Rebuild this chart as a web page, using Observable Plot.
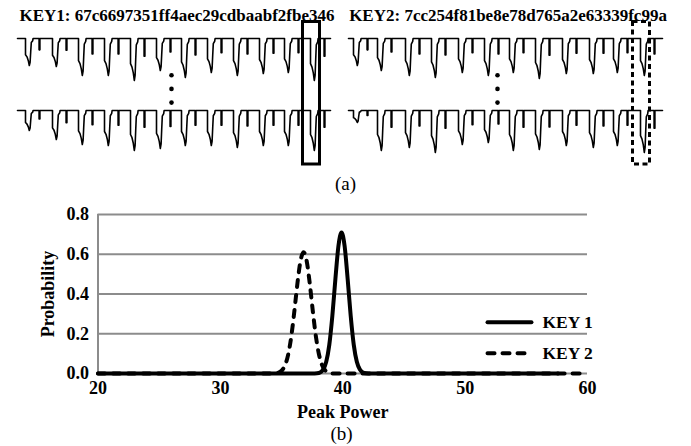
<!DOCTYPE html>
<html><head><meta charset="utf-8">
<script src="https://cdn.jsdelivr.net/npm/d3@7"></script>
<script src="https://cdn.jsdelivr.net/npm/@observablehq/plot@0.6"></script>
<style>
body{margin:0;background:#fff;}
#fig{position:relative;width:691px;height:446px;font-family:"Liberation Serif","Times New Roman",serif;color:#000;}
#fig > *{position:absolute;}
.cap{font-size:19px;line-height:19px;text-align:center;left:0;}
</style></head><body><div id="fig"></div>
<script>
// ---------- (a) power traces ----------
const keys = ["KEY1", "KEY2"];
const keyTitles = ["KEY1: 67c6697351ff4aec29cdbaabf2fbe346", "KEY2: 7cc254f81be8e78d765a2e63339fc99a"];
const rows = ["first", "last"];
const traceLength = [313, 314];              // samples per trace
// sample index where each dip begins
const dipStarts = {
  KEY1: [8, 35, 61, 87, 113, 139, 164, 190, 216, 242, 267, 293],
  KEY2: [5, 29, 57, 83, 110, 136, 161, 187, 214, 241, 265, 292]
};
// depth of each dip (power drop) in the first and last traces
const dipDepthFirst = {
  KEY1: [27, 28, 37, 37, 42, 32, 39, 34, 37, 35, 34, 42],
  KEY2: [27, 32, 37, 39, 34, 37, 34, 40, 35, 35, 34, 37]
};
const dipDepthLast = {
  KEY1: [20, 29, 34, 35, 40, 38, 35, 35, 37, 35, 35, 40],
  KEY2: [12, 40, 37, 42, 34, 32, 40, 39, 35, 37, 35, 42]
};
// one dip as seen in the traces: [sample offset, share of dip depth]
const dipShape = [[0,0],[0,0.6],[1.5,0.68],[2.8,0.82],[3.8,1.0],[4.6,0.88],[5.2,0.5],[5.8,0.15],
                  [7.2,0.08],[7.6,0],[13.6,0],[13.6,0.42],[14.4,0.42],[14.4,0]];
const highlightedDip = 11;

// ---------- (b) peak power distribution ----------
const key1Power = [20, 37.5, 37.9, 38.15, 38.4, 38.65, 38.9, 39.15, 39.4, 39.65, 39.9, 40.15, 40.4, 40.65, 40.9, 41.15, 41.4, 41.65, 41.9, 42.3, 57.6];
const key1Prob  = [0, 0, 0.001, 0.005, 0.02, 0.059, 0.144, 0.29, 0.476, 0.643, 0.71, 0.643, 0.476, 0.29, 0.144, 0.059, 0.02, 0.005, 0.001, 0, 0];
const key2Power = [20, 34.3, 34.55, 34.8, 35.05, 35.3, 35.55, 35.8, 36.05, 36.3, 36.55, 36.8, 37.05, 37.3, 37.55, 37.8, 38.05, 38.3, 38.55, 38.8, 39.05, 60];
const key2Prob  = [0, 0, 0, 0.006, 0.017, 0.044, 0.098, 0.189, 0.316, 0.455, 0.567, 0.61, 0.567, 0.455, 0.316, 0.189, 0.098, 0.044, 0.017, 0.006, 0, 0];
const xTicks = [20, 30, 40, 50, 60];
const yTicks = [0, 0.2, 0.4, 0.6, 0.8];
const seriesNames = ["KEY 1", "KEY 2"];

// ---------- build ----------
const FONT = "'Liberation Serif','Times New Roman',serif";
const rowBase = {first: 38, last: 110};
const traces = [];
keys.forEach((key, ki) => {
  rows.forEach(row => {
    const depths = row === "first" ? dipDepthFirst[key] : dipDepthLast[key];
    traces.push({key, row, t: 0, y: rowBase[row]});
    dipStarts[key].forEach((s, i) => {
      for (const [dt, f] of dipShape) traces.push({key, row, t: s + dt, y: rowBase[row] + depths[i] * f});
    });
    traces.push({key, row, t: traceLength[ki], y: rowBase[row]});
  });
});
const titles = keys.map((key, i) => ({key, title: keyTitles[i]}));
const boxes = keys.map(key => {
  const s = dipStarts[key][highlightedDip];
  return {key, x1: s - 7.5, x2: s + 9.5, y1: rowBase.first - 16.5, y2: rowBase.last + 54};
});
const ellipsis = [];
[["KEY1", 154], ["KEY2", 149]].forEach(([key, t]) => [0.51, 0.70, 0.89].forEach(f =>
  ellipsis.push({key, t, y: rowBase.first + (rowBase.last - rowBase.first) * f})));

const plotA = Plot.plot({
  width: 691, height: 172, marginTop: 0, marginBottom: 0, marginLeft: 0, marginRight: 29,
  style: {fontFamily: FONT, background: "white", color: "black", overflow: "visible"},
  fx: {domain: keys, padding: 0, axis: null},
  x: {domain: [-17, 314], axis: null},
  y: {domain: [0, 172], range: [0, 172], axis: null},
  marks: [
    Plot.line(traces, {fx: "key", x: "t", y: "y", z: "row", stroke: "black", strokeWidth: 1.6}),
    Plot.rect(boxes.filter(d => d.key === "KEY1"), {fx: "key", x1: "x1", x2: "x2", y1: "y1", y2: "y2", fill: "none", stroke: "black", strokeWidth: 3}),
    Plot.rect(boxes.filter(d => d.key === "KEY2"), {fx: "key", x1: "x1", x2: "x2", y1: "y1", y2: "y2", fill: "none", stroke: "black", strokeWidth: 3, strokeDasharray: "5,3.5"}),
    Plot.dot(ellipsis, {fx: "key", x: "t", y: "y", r: 2.3, fill: "black"}),
    Plot.text(titles, {fx: "key", text: "title", frameAnchor: "top", lineAnchor: "top", dx: 11, dy: 8, fontSize: 17, fontWeight: "bold", fill: "black"})
  ]
});

const key1 = key1Power.map((p, i) => ({power: p, prob: key1Prob[i]}));
const key2 = key2Power.map((p, i) => ({power: p, prob: key2Prob[i]}));
const legend = [
  {name: seriesNames[0], x1: 51.83, x2: 55.42, xt: 56.32, y: 0.258},
  {name: seriesNames[1], x1: 51.83, x2: 55.42, xt: 56.32, y: 0.102}
];
const plotB = Plot.plot({
  width: 691, height: 251, marginTop: 19, marginBottom: 73, marginLeft: 97.5, marginRight: 104,
  style: {fontFamily: FONT, fontSize: "18px", fontWeight: "bold", background: "white", color: "black", overflow: "visible"},
  x: {domain: [20, 60], ticks: xTicks, tickSize: 0, tickPadding: 8, label: "Peak Power", labelAnchor: "center", labelOffset: 44, labelArrow: false},
  y: {domain: [0, 0.8], ticks: yTicks, tickFormat: ".1f", tickSize: 0, tickPadding: 9, label: "Probability", labelAnchor: "center", labelOffset: 57, labelArrow: false},
  marks: [
    Plot.gridY(yTicks, {stroke: "#8c8c8c", strokeOpacity: 1, strokeWidth: 2}),
    Plot.ruleX([20], {stroke: "#8c8c8c", strokeWidth: 2}),
    Plot.line(key2, {x: "power", y: "prob", stroke: "black", strokeWidth: 4, strokeDasharray: "7,8", strokeLinecap: "round", curve: "monotone-x"}),
    Plot.line(key1, {x: "power", y: "prob", stroke: "black", strokeWidth: 4, curve: "monotone-x"}),
    Plot.link(legend.slice(0, 1), {x1: "x1", x2: "x2", y1: "y", y2: "y", stroke: "black", strokeWidth: 4, strokeLinecap: "round"}),
    Plot.link(legend.slice(1), {x1: "x1", x2: "x2", y1: "y", y2: "y", stroke: "black", strokeWidth: 4, strokeDasharray: "7,8", strokeLinecap: "round"}),
    Plot.text(legend, {x: "xt", y: "y", text: "name", textAnchor: "start", fontSize: 17.5, fontWeight: "bold", fill: "black"})
  ]
});

const fig = document.getElementById("fig");
plotA.style.left = "0px"; plotA.style.top = "0px";
fig.appendChild(plotA);
const capA = document.createElement("div");
capA.className = "cap"; capA.textContent = "(a)";
capA.style.top = "174px"; capA.style.width = "691px";
fig.appendChild(capA);
plotB.style.left = "0px"; plotB.style.top = "195px";
fig.appendChild(plotB);
const capB = document.createElement("div");
capB.className = "cap"; capB.textContent = "(b)";
capB.style.top = "424px"; capB.style.width = "683px";
fig.appendChild(capB);
</script></body></html>
